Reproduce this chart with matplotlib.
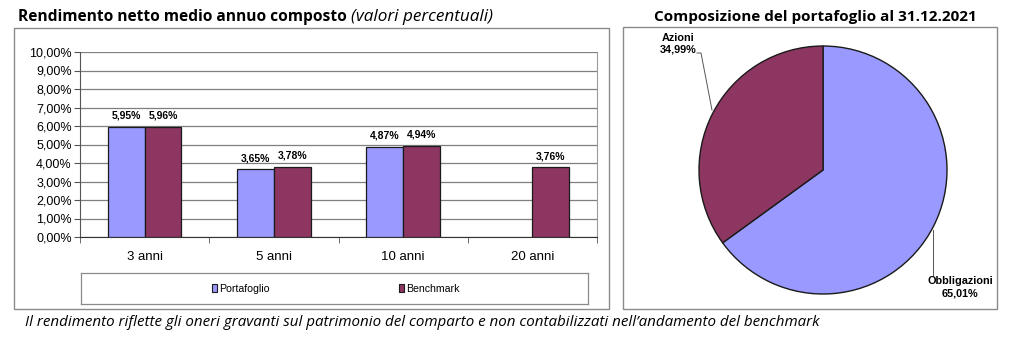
import matplotlib
matplotlib.use("Agg")
import matplotlib.pyplot as plt
from matplotlib.patches import Rectangle
from matplotlib.lines import Line2D
import numpy as np

categories = ["3 anni", "5 anni", "10 anni", "20 anni"]
portafoglio = [5.95, 3.65, 4.87, None]
benchmark = [5.96, 3.78, 4.94, 3.76]
yticks = [0, 1, 2, 3, 4, 5, 6, 7, 8, 9, 10]
pie_labels = ["Obbligazioni", "Azioni"]
pie_values = [65.01, 34.99]

C_PORT = "#9999FF"
C_BENCH = "#8E3662"
W, H = 1024, 357

plt.rcParams['font.family'] = ['Liberation Sans Narrow', 'Liberation Sans', 'DejaVu Sans']

fig = plt.figure(figsize=(W / 100, H / 100), dpi=100)

def fx(x):
    return x / W

def fy(y):
    return 1 - y / H

def pct(v):
    return f"{v:.2f}".replace(".", ",") + "%"

# outer boxes
fig.patches.append(Rectangle((fx(14), fy(309)), fx(609 - 14), (309 - 28) / H,
                             transform=fig.transFigure, fill=False, ec="#8a8a8a", lw=1.0))
fig.patches.append(Rectangle((fx(623), fy(309)), fx(997 - 623), (309 - 27) / H,
                             transform=fig.transFigure, fill=False, ec="#8a8a8a", lw=1.0))

# titles
title_font = ['Open Sans', 'DejaVu Sans']
t1 = fig.text(fx(18), fy(17), "Rendimento netto medio annuo composto ", ha="left", va="center",
              fontsize=11.2, fontweight="bold", family=title_font)
fig.canvas.draw()
bb = t1.get_window_extent()
fig.text(bb.x1 / W, fy(17), "(valori percentuali)", ha="left", va="center",
         fontsize=12.3, style="italic", family=title_font)
fig.text(fx(815), fy(17), "Composizione del portafoglio al 31.12.2021", ha="center", va="center",
         fontsize=11.0, fontweight="bold", family=title_font)

# bar chart
ax = fig.add_axes([fx(80), fy(237), fx(597 - 80), (237 - 52) / H])
x = np.arange(len(categories))
bw = 0.285
for i in range(len(categories)):
    if portafoglio[i] is not None:
        ax.bar(x[i] - bw / 2, portafoglio[i], bw, color=C_PORT, ec="#1a1a1a", lw=0.9, zorder=3)
        ax.text(x[i] - bw / 2, portafoglio[i] + 0.33, pct(portafoglio[i]), ha="center", va="bottom",
                fontsize=7.5, fontweight="bold")
    if benchmark[i] is not None:
        ax.bar(x[i] + bw / 2, benchmark[i], bw, color=C_BENCH, ec="#1a1a1a", lw=0.9, zorder=3)
        ax.text(x[i] + bw / 2, benchmark[i] + 0.33, pct(benchmark[i]), ha="center", va="bottom",
                fontsize=7.5, fontweight="bold")
ax.set_xlim(-0.5, len(categories) - 0.5)
ax.set_ylim(0, 10)
ax.set_yticks(yticks)
ax.set_yticklabels([pct(v) for v in yticks], fontsize=9)
ax.set_xticks(x)
ax.set_xticklabels(categories, fontsize=9.5)
ax.tick_params(axis="x", length=0, pad=10)
ax.set_xticks(np.arange(-0.5, len(categories), 1), minor=True)
ax.tick_params(axis="x", which="minor", length=4, direction="out", color="#555555")
ax.tick_params(axis="y", length=4, direction="out", pad=2, color="#555555")
ax.yaxis.grid(True, color="#7f7f7f", lw=0.9, zorder=0)
ax.set_axisbelow(True)
ax.spines["top"].set_visible(False)
ax.spines["right"].set_color("#9a9a9a")
ax.spines["left"].set_color("#555555")
ax.spines["bottom"].set_color("#333333")

# legend box
lax = fig.add_axes([fx(81), fy(304), fx(588 - 81), (304 - 273) / H])
lax.set_xlim(0, 1)
lax.set_ylim(0, 1)
lax.set_xticks([])
lax.set_yticks([])
for s in lax.spines.values():
    s.set_color("#8a8a8a")
    s.set_linewidth(0.9)
for xp, col, lab in [(0.272, C_PORT, "Portafoglio"), (0.641, C_BENCH, "Benchmark")]:
    lax.add_patch(Rectangle((xp - 0.014, 0.38), 0.011, 0.26, fc=col, ec="#1a1a1a", lw=0.8))
    lax.text(xp, 0.5, lab, ha="left", va="center", fontsize=7.6)

# pie chart
r = 124
pax = fig.add_axes([fx(823 - r), fy(170 + r), fx(2 * r), 2 * r / H])
pax.pie(pie_values, colors=[C_PORT, C_BENCH], startangle=90, counterclock=False,
        wedgeprops=dict(ec="#1a1a1a", lw=1.0))
pax.set_aspect("equal")
pax.set_xlim(-1, 1)
pax.set_ylim(-1, 1)

# pie labels with leader lines
fig.text(fx(678), fy(44), pie_labels[1] + "\n" + pct(pie_values[1]), ha="center", va="center",
         fontsize=7.8, fontweight="bold", linespacing=1.25)
fig.lines.append(Line2D([fx(697), fx(701), fx(712)], [fy(53), fy(53), fy(110)],
                        transform=fig.transFigure, color="#555555", lw=0.7))
fig.text(fx(960), fy(287), pie_labels[0] + "\n" + pct(pie_values[0]), ha="center", va="center",
         fontsize=7.8, fontweight="bold", linespacing=1.25)
fig.lines.append(Line2D([fx(933), fx(933)], [fy(230), fy(275)],
                        transform=fig.transFigure, color="#555555", lw=0.7))

# footnote
fig.text(fx(25), fy(322), "Il rendimento riflette gli oneri gravanti sul patrimonio del comparto e non contabilizzati nell\u2019andamento del benchmark",
         ha="left", va="center", fontsize=10.9, style="italic", family=['Open Sans', 'DejaVu Sans'])

fig.savefig("out.png", dpi=100)
